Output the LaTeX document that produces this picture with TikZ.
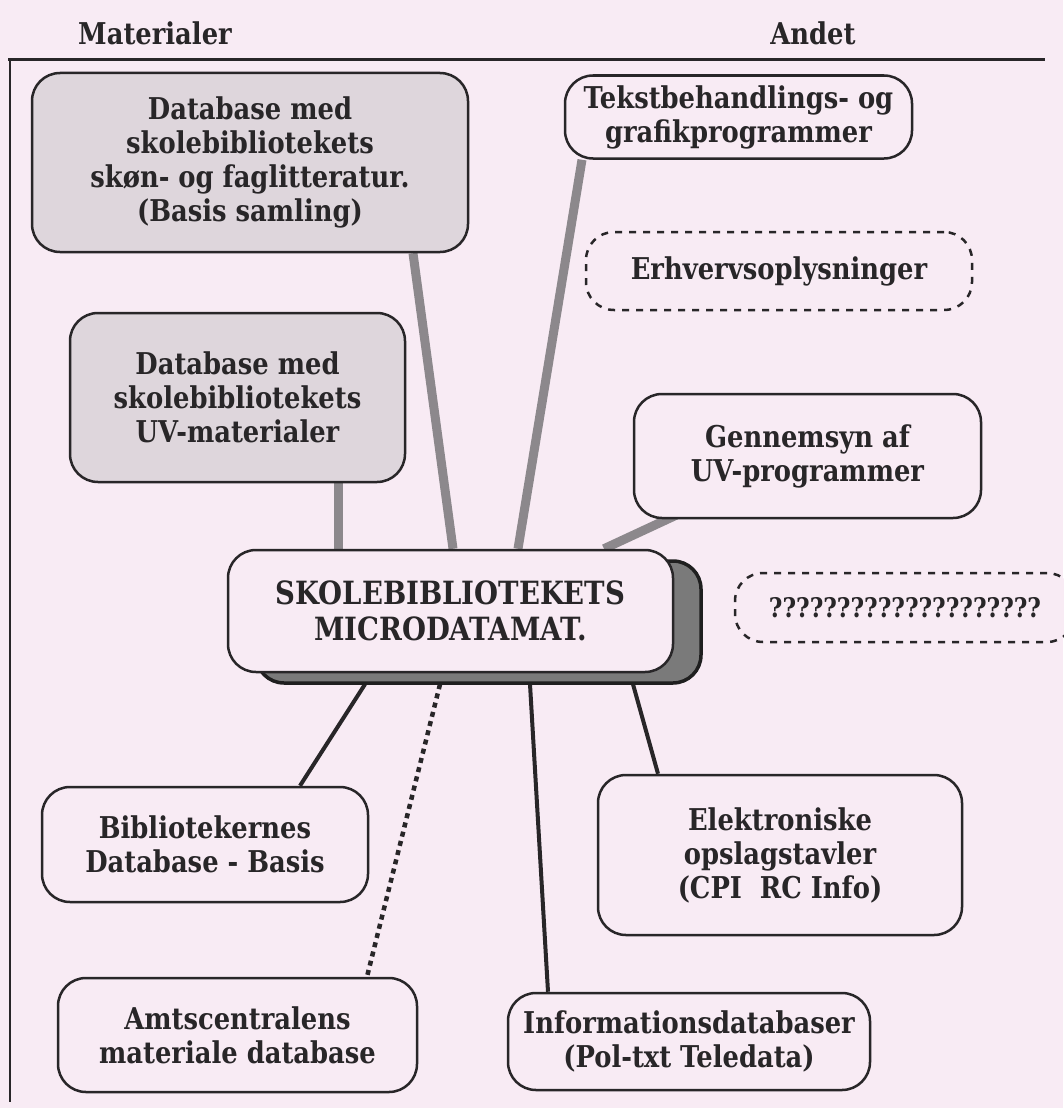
\documentclass[tikz,border=0pt]{standalone}
\usepackage{fontspec}
\setmainfont{DejaVu Serif}[FakeStretch=0.86]
\usetikzlibrary{shadows}
\definecolor{bgpink}{RGB}{248,235,244}
\definecolor{shadefill}{RGB}{222,214,220}
\definecolor{ink}{RGB}{40,38,40}
\definecolor{gline}{RGB}{140,136,140}
\pgfdeclarelayer{back}
\pgfsetlayers{back,main}
\begin{document}
\begin{tikzpicture}[x=1pt,y=-1pt,
  box/.style={draw=ink, line width=2.5pt, rounded corners=28pt, fill=bgpink, align=center,
    font=\bfseries\fontsize{30}{34}\selectfont, text=ink, inner sep=0pt},
  graybox/.style={box, fill=shadefill},
  dbox/.style={box, dash pattern=on 7pt off 7pt},
  hdr/.style={font=\bfseries\fontsize{30}{34}\selectfont, text=ink, inner sep=0pt},
  gcon/.style={line width=9pt, draw=gline},
  bcon/.style={line width=4pt, draw=ink},
  dcon/.style={line width=4.5pt, draw=ink, dash pattern=on 5pt off 4.5pt},
  rule/.style={draw=ink}]
\useasboundingbox (0,0) rectangle (1063,1108);
\begin{pgfonlayer}{back}
\fill[bgpink] (0,0) rectangle (1063,1108);
\end{pgfonlayer}

% headers and frame
\node[hdr] (mat) at (155,33) {Materialer};
\node[hdr] (and) at (813,33) {Andet};
\coordinate (hl) at (8,60);
\coordinate (hr) at (1045,60);
\coordinate (vt) at (10,60);
\coordinate (vb) at (10,1102);
\draw[rule, line width=3pt] (hl) -- (hr);
\draw[rule, line width=2pt] (vt) -- (vb);

% boxes
\node[graybox, minimum width=436pt, minimum height=179pt] (A) at (250,162.5)
  {Database med\\skolebibliotekets\\skøn- og faglitteratur.\\(Basis samling)};
\node[box, minimum width=347pt, minimum height=83pt] (B) at (738.5,117)
  {Tekstbehandlings- og\\grafikprogrammer};
\node[dbox, minimum width=386pt, minimum height=78pt] (E) at (779,271)
  {Erhvervsoplysninger};
\node[graybox, minimum width=335pt, minimum height=169pt] (D) at (237.5,397.5)
  {Database med\\skolebibliotekets\\UV-materialer};
\node[box, minimum width=347pt, minimum height=124pt] (G) at (807.5,456)
  {Gennemsyn af\\UV-programmer};
\node[box, minimum width=445pt, minimum height=122pt,
  font=\bfseries\fontsize{32}{36}\selectfont,
  drop shadow={shadow xshift=28pt, shadow yshift=-11pt, fill=black!52, draw=black!88, line width=3.5pt, opacity=1}]
  (C) at (450.5,611) {SKOLEBIBLIOTEKETS\\MICRODATAMAT.};
\node[dbox, minimum width=340pt, minimum height=69pt, font=\bfseries\fontsize{27}{30}\selectfont] (Q) at (905,607.5)
  {????????????????????};
\node[box, minimum width=326pt, minimum height=115pt] (Bib) at (205,844.5)
  {Bibliotekernes\\Database - Basis};
\node[box, minimum width=364pt, minimum height=160pt] (El) at (780,855)
  {Elektroniske\\opslagstavler\\(CPI\ \ RC Info)};
\node[box, minimum width=359pt, minimum height=114pt] (Am) at (237.5,1035)
  {Amtscentralens\\materiale database};
\node[box, minimum width=362pt, minimum height=97pt] (In) at (689,1041.5)
  {Informationsdatabaser\\(Pol-txt Teledata)};

% connectors
\begin{pgfonlayer}{back}
\draw[gcon] ([xshift=163pt]A.south) -- ([xshift=2.5pt]C.north);
\draw[gcon] ([xshift=-156.5pt]B.south) -- ([xshift=67.5pt]C.north);
\draw[gcon] ([xshift=100.5pt]D.south) -- ([xshift=-112.5pt]C.north);
\draw[gcon] ([xshift=-131.5pt,yshift=4pt]G.south) -- ([xshift=153.5pt]C.north);
\draw[bcon] ([xshift=-85.5pt,yshift=-11pt]C.south) -- ([xshift=95pt]Bib.north);
\draw[dcon] ([xshift=-10.5pt,yshift=-11pt]C.south) -- ([xshift=129.5pt]Am.north);
\draw[bcon] ([xshift=79.5pt,yshift=-11pt]C.south) -- ([xshift=-141pt]In.north);
\draw[bcon] ([xshift=182.5pt,yshift=-11pt]C.south) -- ([xshift=-122pt]El.north);
\end{pgfonlayer}
\end{tikzpicture}
\end{document}
